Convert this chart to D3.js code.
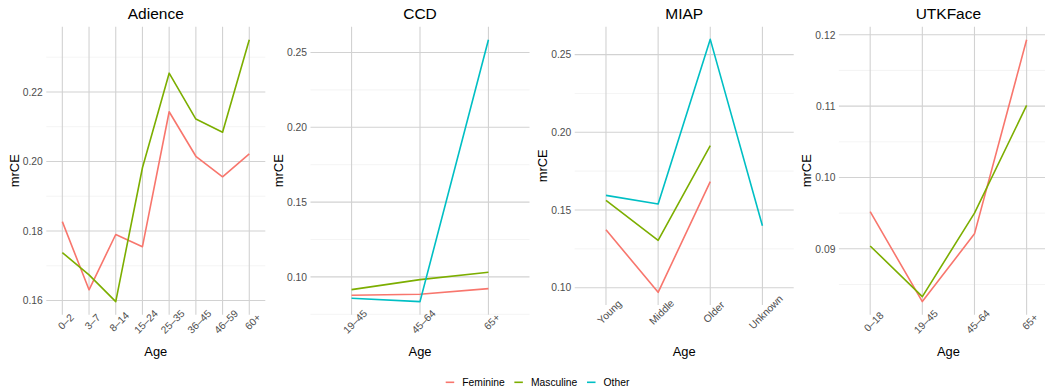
<!DOCTYPE html>
<html><head><meta charset="utf-8">
<script src="https://cdn.jsdelivr.net/npm/d3@7"></script>
<style>
body{margin:0;background:#fff}
svg{display:block}
text{font-family:"Liberation Sans",Arial,Helvetica,sans-serif}
</style>
</head><body><svg id="c" width="1045" height="392"></svg>
<script>
const seriesNames = ["Feminine","Masculine","Other"];
const seriesColors = ["#F8766D","#7CAE00","#00BFC4"];

const adienceAges = ["0–2","3–7","8–14","15–24","25–35","36–45","46–59","60+"];
const adienceFeminine = [0.1827,0.1631,0.1790,0.1755,0.2143,0.2015,0.1956,0.2022];
const adienceMasculine = [0.1738,0.1674,0.1597,0.1982,0.2254,0.2122,0.2084,0.2350];
const adienceTicks = [0.16,0.18,0.20,0.22];

const ccdAges = ["19–45","45–64","65+"];
const ccdFeminine = [0.0877,0.0884,0.0922];
const ccdMasculine = [0.0915,0.0982,0.1031];
const ccdOther = [0.0857,0.0835,0.2585];
const ccdTicks = [0.10,0.15,0.20,0.25];

const miapAges = ["Young","Middle","Older","Unknown"];
const miapFeminine = [0.1373,0.0970,0.1682,null];
const miapMasculine = [0.1562,0.1305,0.1914,null];
const miapOther = [0.1594,0.1539,0.2598,0.1399];
const miapTicks = [0.10,0.15,0.20,0.25];

const utkAges = ["0–18","19–45","45–64","65+"];
const utkFeminine = [0.0952,0.0826,0.0921,0.1193];
const utkMasculine = [0.0904,0.0833,0.0950,0.1101];
const utkTicks = [0.09,0.10,0.11,0.12];

const panels = [
  {title:"Adience", ages:adienceAges, series:[adienceFeminine, adienceMasculine, null], ticks:adienceTicks},
  {title:"CCD", ages:ccdAges, series:[ccdFeminine, ccdMasculine, ccdOther], ticks:ccdTicks},
  {title:"MIAP", ages:miapAges, series:[miapFeminine, miapMasculine, miapOther], ticks:miapTicks},
  {title:"UTKFace", ages:utkAges, series:[utkFeminine, utkMasculine, null], ticks:utkTicks}
];

const svg = d3.select("#c");
const FONT_AX = 10.3, FONT_TITLE = 15.5, FONT_LAB = 12.9;
const panelW = 219, panelTop = 26.7;
const bottoms = [314.7, 314.7, 305, 314.7];
const fmt = d3.format(".2f");

panels.forEach((p, i) => {
  const left = 46.3 + i * 264.2, right = left + panelW, bottom = bottoms[i];
  const all = p.series.filter(s => s).flat().filter(v => v != null);
  const [mn, mx] = d3.extent(all);
  const r = mx - mn;
  const y = d3.scaleLinear().domain([mn - 0.05 * r, mx + 0.05 * r]).range([bottom, panelTop]);
  const x = d3.scalePoint().domain(p.ages).range([left, right]).padding(0.6);
  const g = svg.append("g");

  // minor grid
  const step = p.ticks[1] - p.ticks[0];
  const minors = [];
  for (let k = -1; k < p.ticks.length; k++) minors.push(p.ticks[0] + step * (k + 0.5));
  const dom = y.domain();
  g.selectAll(".minor").data(minors.filter(v => v >= dom[0] && v <= dom[1])).join("line")
    .attr("x1", left).attr("x2", right).attr("y1", d => y(d)).attr("y2", d => y(d))
    .attr("stroke", "#ededed").attr("stroke-width", 0.6);
  // major grid
  g.selectAll(".hmaj").data(p.ticks).join("line")
    .attr("x1", left).attr("x2", right).attr("y1", d => y(d)).attr("y2", d => y(d))
    .attr("stroke", "#d2d2d2").attr("stroke-width", 1.1);
  g.selectAll(".vmaj").data(p.ages).join("line")
    .attr("x1", d => x(d)).attr("x2", d => x(d)).attr("y1", panelTop).attr("y2", bottom)
    .attr("stroke", "#d2d2d2").attr("stroke-width", 1.1);

  // y axis
  const ya = g.append("g").attr("transform", `translate(${left},0)`)
    .call(d3.axisLeft(y).tickValues(p.ticks).tickSize(0).tickPadding(3.5).tickFormat(fmt));
  ya.select(".domain").remove();
  ya.selectAll("text").attr("font-size", FONT_AX).attr("fill", "#4d4d4d")
    .style("font-family", '"Liberation Sans",Arial,sans-serif');

  // x axis
  const xa = g.append("g").attr("transform", `translate(0,${bottom})`)
    .call(d3.axisBottom(x).tickSize(0));
  xa.select(".domain").remove();
  xa.selectAll("text").attr("y", 0).attr("dy", "0.35em")
    .attr("text-anchor", "middle")
    .attr("transform", "translate(3,7) rotate(-45)")
    .attr("font-size", FONT_AX).attr("fill", "#4d4d4d")
    .style("font-family", '"Liberation Sans",Arial,sans-serif');

  // lines
  p.series.forEach((s, si) => {
    if (!s) return;
    const line = d3.line().defined(d => d != null)
      .x((d, j) => x(p.ages[j])).y(d => y(d));
    g.append("path").datum(s).attr("d", line)
      .attr("fill", "none").attr("stroke", seriesColors[si]).attr("stroke-width", 1.6)
      .attr("stroke-linejoin", "round");
  });

  // titles
  g.append("text").attr("x", (left + right) / 2).attr("y", 18.5).attr("text-anchor", "middle")
    .attr("font-size", FONT_TITLE).attr("fill", "#000").text(p.title);
  g.append("text").attr("x", (left + right) / 2).attr("y", 356).attr("text-anchor", "middle")
    .attr("font-size", FONT_LAB).attr("fill", "#000").text("Age");
  g.append("text").attr("transform", `translate(${left - 27.5},${(panelTop + bottom) / 2}) rotate(-90)`)
    .attr("text-anchor", "middle").attr("font-size", FONT_LAB).attr("fill", "#000").text("mrCE");
});

// legend
const lg = svg.append("g");
let lx = 445.7;
const ly = 382.3;
seriesNames.forEach((n, i) => {
  lg.append("line").attr("x1", lx).attr("x2", lx + 8.5).attr("y1", ly).attr("y2", ly)
    .attr("stroke", seriesColors[i]).attr("stroke-width", 1.6);
  const t = lg.append("text").attr("x", lx + 16.6).attr("y", ly).attr("dy", "0.35em")
    .attr("font-size", FONT_AX).attr("fill", "#000").text(n);
  lx = lx + 16.6 + t.node().getComputedTextLength() + 9.7;
});
</script>
</body></html>
